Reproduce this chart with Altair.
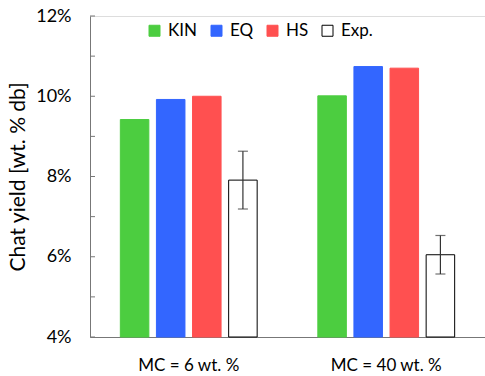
import altair as alt
import pandas as pd

# Char yield per moisture-content case, in wt. % dry basis
groups = ["MC = 6 wt. %", "MC = 40 wt. %"]
series = ["KIN", "EQ", "HS", "Exp."]
kin = [9.42, 10.01]
eq = [9.92, 10.74]
hs = [10.00, 10.70]
exp = [7.91, 6.05]
exp_err = [0.72, 0.48]
y_ticks = [4, 5, 6, 7, 8, 9, 10, 11, 12]
y_labels = [4, 6, 8, 10, 12]

colors = ["#4ccd40", "#3366ff", "#ff5050", "#ffffff"]
strokes = ["#4ccd40", "#3366ff", "#ff5050", "#000000"]
axis_gray = "#777777"
font = "Lato"

rows = []
for i, g in enumerate(groups):
    for s, vals in zip(series, [kin, eq, hs, exp]):
        err = exp_err[i] if s == "Exp." else 0.0
        rows.append({"group": g, "series": s, "value": vals[i],
                     "lo": vals[i] - err, "hi": vals[i] + err, "err": err})
df = pd.DataFrame(rows)
ticks_df = pd.DataFrame({"t": y_ticks})

y_scale = alt.Scale(domain=[4, 12], nice=False, zero=False)
x_enc = alt.X("group:N", sort=groups, title=None,
              scale=alt.Scale(paddingInner=0, paddingOuter=0),
              axis=alt.Axis(labelAngle=0, ticks=False, domainColor=axis_gray,
                            labelFont=font, labelFontSize=17, labelColor="#000",
                            labelPadding=20))
xo_enc = alt.XOffset("series:N", sort=series,
                     scale=alt.Scale(paddingInner=0.21, paddingOuter=0.84))

base = alt.Chart(df)

bars = base.mark_bar(strokeWidth=1).encode(
    x=x_enc,
    xOffset=xo_enc,
    y=alt.Y("value:Q", scale=y_scale, title="Chat yield [wt. % db]",
            axis=alt.Axis(values=y_labels, tickSize=0, grid=False,
                          domainColor=axis_gray, labelExpr="datum.value + '%'",
                          labelFont=font, labelFontSize=18, labelColor="#000",
                          labelPadding=19, titleFont=font, titleFontSize=21,
                          titleFontWeight="normal", titleColor="#000",
                          titlePadding=7)),
    y2=alt.datum(4),
    color=alt.Color("series:N", sort=series,
                    scale=alt.Scale(domain=series, range=colors),
                    legend=alt.Legend(title=None, orient="none", direction="horizontal",
                                      legendX=56, legendY=6, symbolType="square",
                                      symbolSize=121, symbolStrokeWidth=1,
                                      labelFont=font, labelFontSize=17,
                                      labelColor="#000", columnPadding=10,
                                      labelOffset=5)),
    stroke=alt.Stroke("series:N", sort=series,
                      scale=alt.Scale(domain=series, range=strokes)),
)

err_data = base.transform_filter("datum.err > 0")
whisk = err_data.mark_rule(color="#333333", strokeWidth=1.2).encode(
    x=alt.X("group:N", sort=groups), xOffset=xo_enc,
    y=alt.Y("lo:Q", scale=y_scale), y2="hi:Q")
cap_lo = err_data.mark_tick(color="#333333", size=10, thickness=1.2).encode(
    x=alt.X("group:N", sort=groups), xOffset=xo_enc,
    y=alt.Y("lo:Q", scale=y_scale))
cap_hi = err_data.mark_tick(color="#333333", size=10, thickness=1.2).encode(
    x=alt.X("group:N", sort=groups), xOffset=xo_enc,
    y=alt.Y("hi:Q", scale=y_scale))

# inward-pointing tick marks on the value axis
yticks = alt.Chart(ticks_df).mark_rule(color=axis_gray, strokeWidth=1).encode(
    x=alt.value(0), x2=alt.value(5), y=alt.Y("t:Q", scale=y_scale))

chart = alt.layer(bars, whisk, cap_lo, cap_hi, yticks).properties(
    width=395, height=321,
    autosize=alt.AutoSizeParams(type="none"),
    padding={"left": 90, "top": 16, "right": 0, "bottom": 39},
).configure_view(stroke=None).configure(background="white")

chart.save("out.html", embed_options={"renderer": "svg", "actions": False})
